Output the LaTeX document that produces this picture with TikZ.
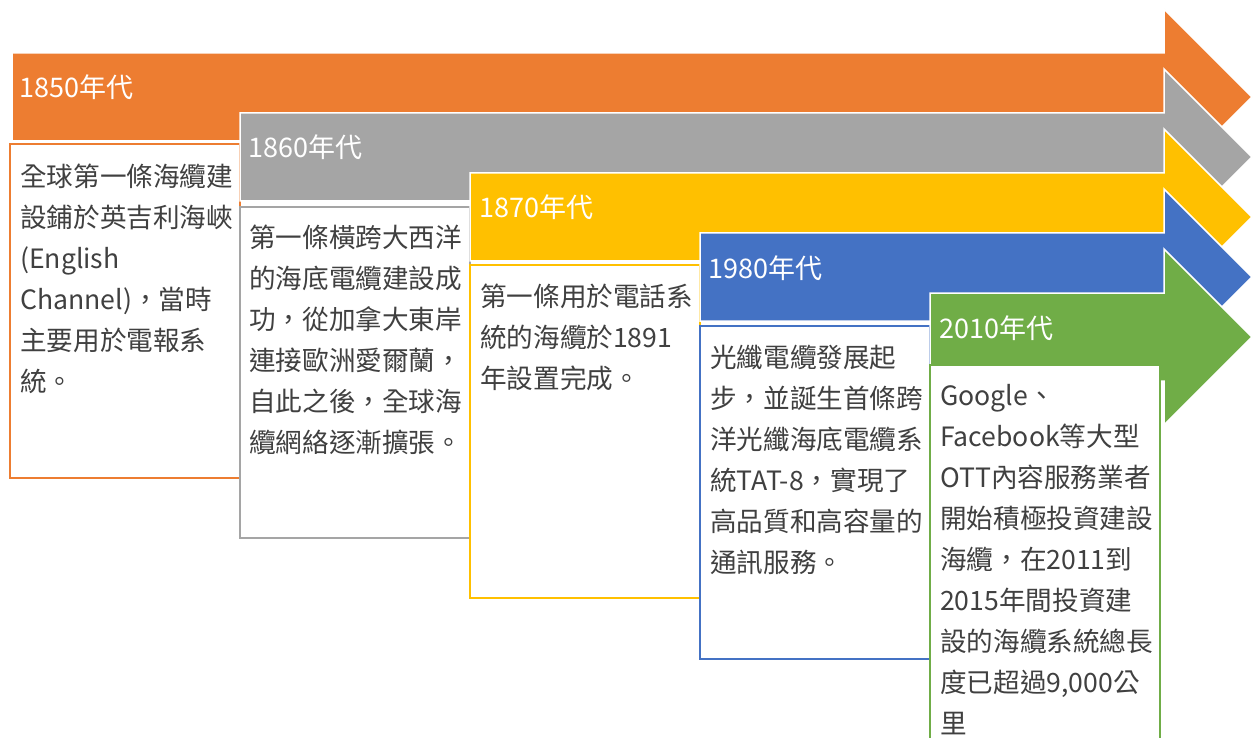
\documentclass[tikz,border=0pt]{standalone}
\usepackage{fontspec}
\setmainfont{Noto Sans CJK TC}
\definecolor{corange}{HTML}{ED7D31}
\definecolor{cgray}{HTML}{A5A5A5}
\definecolor{cyellow}{HTML}{FFC000}
\definecolor{cblue}{HTML}{4472C4}
\definecolor{cgreen}{HTML}{70AD47}
\definecolor{txt}{HTML}{404040}
\newcommand\bandarrow[3]{%
  \draw[band, fill=#3] (#1,#2-44) -- (1164,#2-44) -- (1164,#2-88) -- (1252,#2)
    -- (1164,#2+88) -- (1164,#2+44) -- (#1,#2+44) -- cycle;}
\tikzset{
  band/.style={draw=white, line width=1.5pt, line join=miter},
  card/.style={draw=#1, line width=2pt, fill=white},
  lbl/.style={anchor=base west, inner sep=0pt, text=white, font=\fontsize{27}{30}\selectfont},
  body/.style={anchor=north west, inner sep=0pt, align=left, text=txt,
    font=\fontsize{26.6}{41}\selectfont},
}
\begin{document}
\begin{tikzpicture}[x=1pt,y=-1pt]
\clip (0,0) rectangle (1256,738);
\fill[white] (0,0) rectangle (1256,738);
% 1850
\bandarrow{12}{97}{corange}
\node[lbl] (l1) at (19,98) {1850年代};
\draw[card=corange] (10,144) rectangle (240,478);
\node[body] (t1) at (20,164) {全球第一條海纜建\\設鋪於英吉利海峽\\(English\\Channel)，當時\\主要用於電報系\\統。};
% 1860
\bandarrow{240}{157}{cgray}
\node[lbl] (l2) at (248,158) {1860年代};
\draw[card=cgray] (240,207) rectangle (470,538);
\node[body] (t2) at (249,225) {第一條橫跨大西洋\\的海底電纜建設成\\功，從加拿大東岸\\連接歐洲愛爾蘭，\\自此之後，全球海\\纜網絡逐漸擴張。};
% 1870
\bandarrow{470}{217}{cyellow}
\node[lbl] (l3) at (479,218) {1870年代};
\draw[card=cyellow] (470,265) rectangle (700,598);
\node[body] (t3) at (480,284) {第一條用於電話系\\統的海纜於1891\\年設置完成。};
% 1980
\bandarrow{700}{277}{cblue}
\node[lbl] (l4) at (708,278) {1980年代};
\draw[card=cblue] (700,326) rectangle (930,659);
\node[body] (t4) at (710,345) {光纖電纜發展起\\步，並誕生首條跨\\洋光纖海底電纜系\\統TAT-8，實現了\\高品質和高容量的\\通訊服務。};
% 2010
\bandarrow{930}{337}{cgreen}
\node[lbl] (l5) at (939,338) {2010年代};
\draw[card=cgreen] (930,365) rectangle (1160,800);
\node[body] (t5) at (940,384) {Google、\\Facebook等大型\\OTT內容服務業者\\開始積極投資建設\\海纜，在2011到\\2015年間投資建\\設的海纜系統總長\\度已超過9,000公\\里};
\end{tikzpicture}
\end{document}
